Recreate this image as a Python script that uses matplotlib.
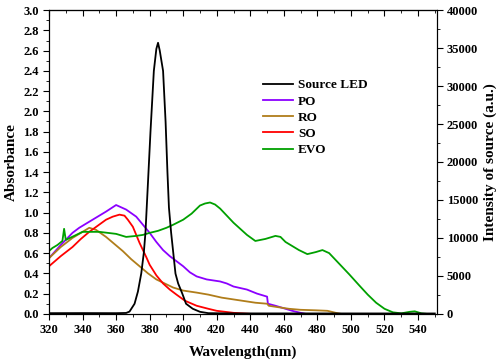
import matplotlib
matplotlib.use("Agg")
from matplotlib import pyplot as plt
from matplotlib.ticker import MultipleLocator

plt.rcParams["font.family"] = ["Liberation Serif", "DejaVu Serif"]
plt.rcParams["font.weight"] = "bold"

# source LED intensity (right axis)
led_wl = [320, 340, 360, 366, 368, 371, 373, 375, 376.5, 377.5, 379, 380.5, 382.5, 384, 385,
          386, 388, 389.5, 390.6, 391.5, 392.8, 395.4, 397, 399.4, 401.7, 405.7, 410, 415, 430, 550]
led_int = [90, 100, 90, 120, 300, 1330, 2930, 5330, 8000, 10700, 17300, 24000, 32000, 34900, 35700,
           34700, 32000, 25300, 18700, 14000, 10700, 5300, 4000, 2700, 1330, 670, 270, 90, 60, 50]

# absorbance spectra (left axis)
po_wl = [320, 327, 334, 338, 344, 349, 354, 360, 366, 372, 376, 380, 384, 388, 392, 396, 400,
         404, 408, 414, 418, 422, 426, 430, 438, 444, 450, 450.5, 455, 459, 465, 470, 473]
po_abs = [0.55, 0.68, 0.8, 0.85, 0.91, 0.96, 1.01, 1.075, 1.03, 0.96, 0.88, 0.8, 0.71, 0.63,
          0.57, 0.52, 0.47, 0.41, 0.37, 0.34, 0.33, 0.32, 0.3, 0.27, 0.24, 0.2, 0.17, 0.1, 0.08,
          0.06, 0.03, 0.01, 0.0]

ro_wl = [320, 327, 334, 340, 344, 348, 354, 359, 364, 369, 374, 379, 384, 389, 394, 400, 408,
         415, 423, 433, 443, 450, 451, 457, 463, 470, 479, 486, 491, 494]
ro_abs = [0.55, 0.66, 0.75, 0.81, 0.85, 0.83, 0.76, 0.69, 0.62, 0.54, 0.47, 0.4, 0.34, 0.3,
          0.26, 0.23, 0.21, 0.19, 0.16, 0.135, 0.11, 0.1, 0.08, 0.065, 0.05, 0.04, 0.035, 0.03,
          0.01, 0.0]

so_wl = [320, 327, 334, 339, 344, 349, 354, 358, 362, 365, 367, 370, 372, 374, 376, 378, 380,
         384, 388, 392, 396, 401, 408, 415, 420, 430, 440]
so_abs = [0.47, 0.57, 0.66, 0.74, 0.81, 0.87, 0.93, 0.96, 0.98, 0.97, 0.93, 0.86, 0.78, 0.7,
          0.63, 0.56, 0.485, 0.38, 0.3, 0.24, 0.19, 0.13, 0.08, 0.05, 0.03, 0.01, 0.0]

evo_wl = [320, 322, 325, 328, 329, 330, 335, 340, 345, 350, 355, 360, 366, 372, 376, 380, 385,
          390, 394, 400, 405, 410, 413, 416, 419, 422, 426, 430, 434, 438, 443, 449, 455, 458,
          461, 465, 469, 474, 479, 483, 487, 491, 495, 499, 505, 510, 515, 520, 525, 530, 535,
          538, 542, 545]
evo_abs = [0.62, 0.65, 0.68, 0.72, 0.84, 0.73, 0.77, 0.81, 0.81, 0.81, 0.8, 0.79, 0.76, 0.77,
           0.78, 0.8, 0.82, 0.85, 0.88, 0.93, 0.99, 1.07, 1.09, 1.1, 1.08, 1.04, 0.97, 0.9, 0.84,
           0.78, 0.72, 0.74, 0.77, 0.76, 0.71, 0.67, 0.63, 0.59, 0.61, 0.63, 0.6, 0.53, 0.46,
           0.39, 0.28, 0.19, 0.11, 0.05, 0.015, 0.005, 0.02, 0.025, 0.005, 0.0]

fig = plt.figure(figsize=(5, 3.62), dpi=100)
ax = fig.add_axes([0.098, 0.133, 0.775, 0.839])
ax2 = ax.twinx()

ax.plot([], [], color="black", lw=1.3, label="Source LED")
ax.plot(po_wl, po_abs, color="#8B00FF", lw=1.3, label="PO")
ax.plot(ro_wl, ro_abs, color="#B07D1A", lw=1.3, label="RO")
ax.plot(so_wl, so_abs, color="#FF0000", lw=1.3, label="SO")
ax.plot(evo_wl, evo_abs, color="#00A000", lw=1.3, label="EVO")
ax2.plot(led_wl, led_int, color="black", lw=1.3)

ax.set_xlim(320, 551)
ax.set_ylim(0, 3.0)
ax2.set_ylim(0, 40000)

ax.xaxis.set_major_locator(MultipleLocator(20))
ax.xaxis.set_minor_locator(MultipleLocator(10))
ax.yaxis.set_major_locator(MultipleLocator(0.2))
ax.yaxis.set_minor_locator(MultipleLocator(0.1))
ax.yaxis.set_major_formatter(plt.FormatStrFormatter("%.1f"))
ax2.yaxis.set_major_locator(MultipleLocator(5000))
ax2.yaxis.set_minor_locator(MultipleLocator(2500))

for a in (ax, ax2):
    a.tick_params(which="both", direction="out", labelsize=9)
    a.tick_params(which="major", length=4)
    a.tick_params(which="minor", length=2.5)

top = ax.secondary_xaxis("top")
top.xaxis.set_major_locator(MultipleLocator(20))
top.xaxis.set_minor_locator(MultipleLocator(10))
top.tick_params(which="both", direction="in", labeltop=False)
top.tick_params(which="major", length=4)
top.tick_params(which="minor", length=2.5)

ax.set_xlabel("Wavelength(nm)", fontsize=11, fontweight="bold", labelpad=7)
ax.set_ylabel("Absorbance", fontsize=11, fontweight="bold")
ax2.set_ylabel("Intensity of source (a.u.)", fontsize=11, fontweight="bold")

ax.legend(loc="upper left", bbox_to_anchor=(0.539, 0.79), frameon=False, fontsize=9.5,
          handlelength=2.3, handletextpad=0.35, labelspacing=0.3, borderaxespad=0)

fig.savefig("out.png", dpi=100)
